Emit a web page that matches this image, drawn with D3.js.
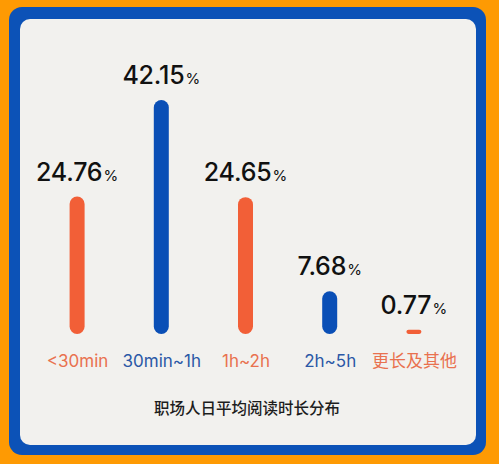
<!DOCTYPE html>
<html>
<head>
<meta charset="utf-8">
<script src="https://cdn.jsdelivr.net/npm/d3@7"></script>
<style>
  html, body { margin: 0; padding: 0; background: #fe9a03; }
  svg { display: block; }
</style>
</head>
<body>
<div id="vis"></div>
<script>
// chart size
const FRAME_WIDTH = 499;
const FRAME_HEIGHT = 464;

// data
const categories = ["<30min", "30min~1h", "1h~2h", "2h~5h", "更长及其他"];
const values = [24.76, 42.15, 24.65, 7.68, 0.77];
const labelText = ["24.76", "42.15", "24.65", "7.68", "0.77"];
const title = "职场人日平均阅读时长分布";

const ORANGE = "#f25f37";
const BLUE = "#0a4fb6";
const barColors = [ORANGE, BLUE, ORANGE, BLUE, ORANGE];
const textColors = ["#e9714f", "#2b58a6", "#e9714f", "#2b58a6", "#e9714f"];

const FONT = "Inter, 'Noto Sans CJK SC', sans-serif";

const FRAME = d3.select("#vis")
  .append("svg")
    .attr("width", FRAME_WIDTH)
    .attr("height", FRAME_HEIGHT);

// orange background + blue frame + gray panel
FRAME.append("rect")
  .attr("width", FRAME_WIDTH).attr("height", FRAME_HEIGHT)
  .attr("fill", "#fe9a03");

FRAME.append("rect")
  .attr("x", 9).attr("y", 7)
  .attr("width", 477).attr("height", 448)
  .attr("rx", 13)
  .attr("fill", "#0c52b7");

FRAME.append("rect")
  .attr("x", 20).attr("y", 19)
  .attr("width", 456).attr("height", 426)
  .attr("rx", 10)
  .attr("fill", "#f2f1ee");

// scales
const BASE_Y = 334;
const BAR_W = 15;

const X_SCALE = d3.scalePoint()
  .domain(categories)
  .range([35, 456])
  .padding(0.5);

const Y_SCALE = d3.scaleLinear()
  .domain([0, d3.max(values)])
  .range([BASE_Y, 100]);

const data = categories.map((c, i) => ({ c: c, v: values[i], t: labelText[i], i: i }));

// pill bars
FRAME.selectAll(".bar")
  .data(data)
  .enter()
  .append("rect")
    .attr("class", "bar")
    .attr("x", d => X_SCALE(d.c) - BAR_W / 2)
    .attr("y", d => Y_SCALE(d.v))
    .attr("width", BAR_W)
    .attr("height", d => BASE_Y - Y_SCALE(d.v))
    .attr("rx", d => Math.min(BAR_W / 2, (BASE_Y - Y_SCALE(d.v)) / 2))
    .attr("fill", d => barColors[d.i]);

// value labels
const vl = FRAME.selectAll(".val")
  .data(data)
  .enter()
  .append("text")
    .attr("class", "val")
    .attr("x", d => X_SCALE(d.c))
    .attr("y", d => Y_SCALE(d.v) - 16)
    .attr("text-anchor", "middle")
    .attr("font-family", FONT)
    .attr("fill", "#111");

vl.append("tspan")
  .attr("font-size", 25)
  .attr("font-weight", 500)
  .attr("letter-spacing", -0.2)
  .text(d => d.t);

vl.append("tspan")
  .attr("font-size", 15)
  .attr("font-weight", 400)
  .attr("dx", 1)
  .text("%");

// category labels (axis)
const xAxis = FRAME.append("g")
  .attr("transform", "translate(0," + (BASE_Y + 19) + ")")
  .call(d3.axisBottom(X_SCALE).tickSize(0).tickPadding(0));

xAxis.select(".domain").remove();
xAxis.selectAll("text")
  .attr("dy", "0.85em")
  .attr("font-family", FONT)
  .attr("font-size", 17)
  .attr("fill", (d, i) => textColors[i]);

// title
FRAME.append("text")
  .attr("x", 247)
  .attr("y", 414)
  .attr("text-anchor", "middle")
  .attr("font-family", "'Noto Sans CJK SC', sans-serif")
  .attr("font-size", 15.5)
  .attr("font-weight", 500)
  .attr("fill", "#1d1d1d")
  .text(title);
</script>
</body>
</html>
